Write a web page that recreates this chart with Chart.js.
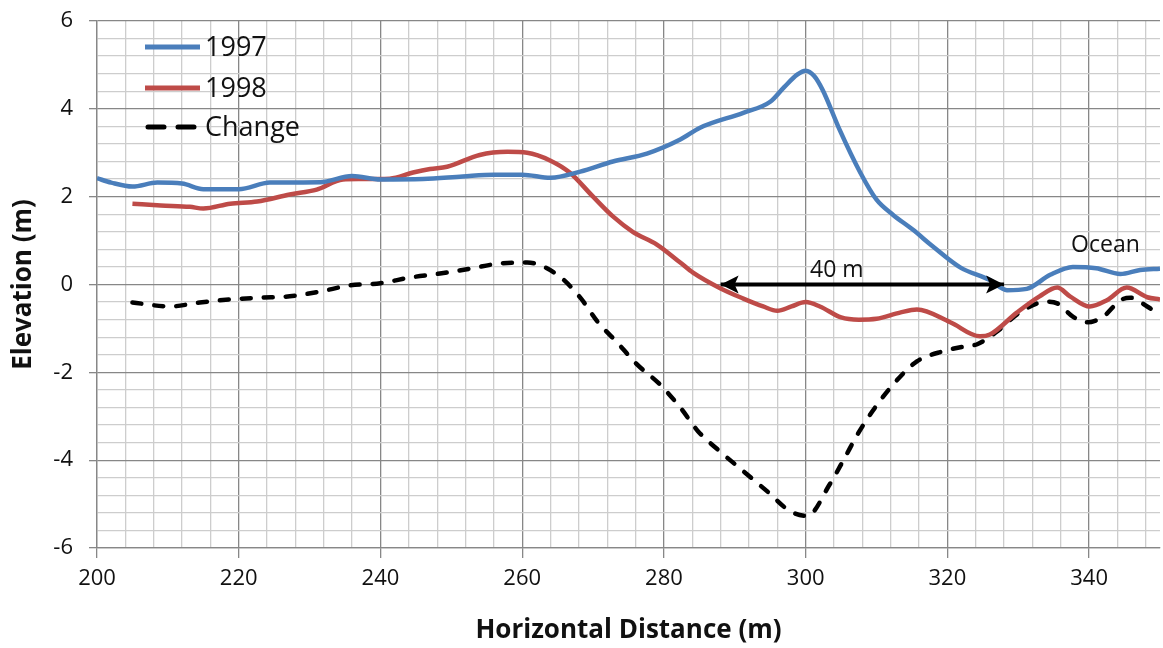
<!DOCTYPE html>
<html>
<head>
<meta charset="utf-8">
<script src="https://cdn.jsdelivr.net/npm/chart.js@4.4.1/dist/chart.umd.min.js"></script>
<style>
  html, body { margin: 0; padding: 0; background: #fff; }
  #wrap { width: 1163px; height: 648px; }
</style>
</head>
<body>
<div id="wrap"><canvas id="profileChart"></canvas></div>
<script>
// profile data (distance in m, elevation in m)
const dist1997 = [200, 202, 205, 208.5, 212, 215, 220, 224.4, 231.5, 236, 240, 246, 251.6, 256, 260, 264, 268.2, 272.8, 277.6, 282.3, 285.1, 291.2, 295, 297, 298.8, 300, 301.2, 302.4, 304.8, 307.7, 310, 312.3, 315.1, 318, 321.8, 326, 328.4, 331.2, 334.5, 337.7, 341, 344.4, 347.2, 350];
const elev1997 = [2.42, 2.32, 2.23, 2.32, 2.3, 2.17, 2.17, 2.32, 2.33, 2.47, 2.39, 2.4, 2.46, 2.5, 2.5, 2.43, 2.57, 2.8, 2.98, 3.3, 3.57, 3.91, 4.16, 4.5, 4.78, 4.87, 4.75, 4.43, 3.52, 2.55, 1.93, 1.59, 1.25, 0.86, 0.39, 0.1, -0.13, -0.1, 0.22, 0.4, 0.37, 0.24, 0.33, 0.36];

const dist1998 = [205, 209, 213.1, 215, 218.8, 222.6, 227.2, 231, 234.7, 237, 241.3, 244.6, 247, 249.4, 254, 257.9, 260.7, 264, 266.7, 270, 272.8, 275.6, 279, 282.3, 284.1, 288, 291.2, 294, 296, 298, 300, 302, 305, 307.5, 310, 313.3, 315.7, 320.4, 324.6, 326, 329.8, 333, 335.5, 337.3, 340.1, 342.5, 345.3, 348.2, 350];
const elev1998 = [1.84, 1.8, 1.77, 1.73, 1.84, 1.89, 2.05, 2.16, 2.39, 2.4, 2.41, 2.55, 2.63, 2.68, 2.95, 3.02, 3.0, 2.82, 2.55, 2.0, 1.55, 1.2, 0.91, 0.5, 0.27, -0.09, -0.32, -0.5, -0.6, -0.5, -0.4, -0.5, -0.75, -0.8, -0.78, -0.64, -0.57, -0.86, -1.18, -1.14, -0.64, -0.27, -0.07, -0.27, -0.5, -0.36, -0.07, -0.29, -0.34];

const distChange = [205, 210.3, 214.5, 218.8, 223, 227.2, 231.5, 235.7, 240, 244.2, 248.4, 252.6, 256.9, 260.7, 264.9, 268.2, 270.6, 273.4, 276.2, 279.4, 282.3, 284.8, 287.9, 291.2, 294.5, 297.8, 300.2, 303.4, 305.5, 307.4, 309.8, 312.6, 315.7, 319.4, 322.8, 324.2, 327, 330.2, 334, 335.5, 337.7, 339.7, 342, 344.4, 345.8, 348.2, 350];
const elevChange = [-0.41, -0.5, -0.41, -0.34, -0.3, -0.27, -0.16, -0.02, 0.03, 0.16, 0.25, 0.36, 0.48, 0.5, 0.23, -0.3, -0.84, -1.32, -1.82, -2.27, -2.8, -3.34, -3.8, -4.25, -4.7, -5.16, -5.27, -4.55, -3.95, -3.39, -2.8, -2.23, -1.75, -1.52, -1.4, -1.36, -1.07, -0.64, -0.39, -0.43, -0.73, -0.86, -0.73, -0.36, -0.3, -0.5, -0.7];

// the "40 m" arrow and text labels, in data units
const arrowX = [288, 328];
const arrowY = [0, 0];
const notes = [
    { text: '40 m', x: 304.4, y: 0.33 },
    { text: 'Ocean', x: 342.3, y: 0.9 }
];

// tick labels
const xTickLabels = [200, 220, 240, 260, 280, 300, 320, 340];
const yTickLabels = [-6, -4, -2, 0, 2, 4, 6];
const xMinorStep = 4;
const yMinorStep = 0.4;

const blue = '#4A7EBB';
const red = '#BE4B48';
const fontFamily = '"Open Sans", Lato, sans-serif';

function toPoints(xs, ys) {
    return xs.map((x, i) => ({ x: x, y: ys[i] }));
}

// legend drawn inside the plot, top-left
const innerLegend = {
    id: 'innerLegend',
    afterDraw(chart) {
        const ctx = chart.ctx;
        const rows = [47, 88, 127];
        ctx.save();
        ctx.font = '27px ' + fontFamily;
        ctx.textBaseline = 'middle';
        ctx.fillStyle = '#111';
        chart.data.datasets.slice(0, 3).forEach((ds, i) => {
            const y = rows[i];
            ctx.strokeStyle = ds.borderColor;
            ctx.lineWidth = 5;
            ctx.lineCap = ds.borderDash ? 'round' : 'butt';
            ctx.setLineDash(ds.borderDash ? [16, 14] : []);
            ctx.beginPath();
            ctx.moveTo(ds.borderDash ? 148 : 145, y);
            ctx.lineTo(ds.borderDash ? 196 : 200, y);
            ctx.stroke();
            ctx.setLineDash([]);
            ctx.fillText(ds.label, 205, y + 1);
        });
        ctx.restore();
    }
};

// arrow heads + text notes
const notesPlugin = {
    id: 'notesPlugin',
    afterDatasetsDraw(chart) {
        const ctx = chart.ctx;
        const xs = chart.scales.x, ys = chart.scales.y;
        const x1 = xs.getPixelForValue(arrowX[0]);
        const x2 = xs.getPixelForValue(arrowX[1]);
        const y1 = ys.getPixelForValue(arrowY[0]);
        ctx.save();
        ctx.fillStyle = '#000';
        ctx.beginPath();
        ctx.moveTo(x1, y1);
        ctx.lineTo(x1 + 18, y1 - 9);
        ctx.lineTo(x1 + 14, y1);
        ctx.lineTo(x1 + 18, y1 + 9);
        ctx.closePath();
        ctx.fill();
        ctx.beginPath();
        ctx.moveTo(x2, y1);
        ctx.lineTo(x2 - 18, y1 - 9);
        ctx.lineTo(x2 - 14, y1);
        ctx.lineTo(x2 - 18, y1 + 9);
        ctx.closePath();
        ctx.fill();

        ctx.font = '23px ' + fontFamily;
        ctx.textAlign = 'center';
        ctx.textBaseline = 'middle';
        ctx.fillStyle = '#111';
        notes.forEach(n => {
            ctx.fillText(n.text, xs.getPixelForValue(n.x), ys.getPixelForValue(n.y));
        });
        ctx.restore();
    }
};

function isMajor(v, list) {
    return list.some(t => Math.abs(t - v) < 1e-6);
}

const ctx = document.getElementById('profileChart').getContext('2d');
new Chart(ctx, {
    type: 'scatter',
    data: {
        datasets: [
            {
                label: '1997',
                data: toPoints(dist1997, elev1997),
                borderColor: blue,
                backgroundColor: blue,
                borderWidth: 4.5
            },
            {
                label: '1998',
                data: toPoints(dist1998, elev1998),
                borderColor: red,
                backgroundColor: red,
                borderWidth: 4.5
            },
            {
                label: 'Change',
                data: toPoints(distChange, elevChange),
                borderColor: '#000',
                backgroundColor: '#000',
                borderWidth: 4.5,
                borderDash: [9, 13],
                borderCapStyle: 'round'
            },
            {
                label: 'arrow',
                data: toPoints(arrowX, arrowY),
                borderColor: '#000',
                backgroundColor: '#000',
                borderWidth: 4
            }
        ]
    },
    options: {
        responsive: true,
        maintainAspectRatio: false,
        animation: false,
        showLine: true,
        elements: {
            point: { radius: 0, hoverRadius: 0 },
            line: { cubicInterpolationMode: 'monotone', fill: false }
        },
        layout: { padding: { top: 21, right: 3, left: 0, bottom: 0 } },
        plugins: {
            legend: { display: false },
            tooltip: { enabled: false }
        },
        scales: {
            x: {
                type: 'linear',
                min: 200,
                max: 350,
                afterBuildTicks(scale) {
                    const t = [];
                    for (let v = 200; v < 350; v += xMinorStep) t.push({ value: v });
                    scale.ticks = t;
                },
                afterFit(scale) { scale.height = 100; },
                ticks: {
                    autoSkip: false,
                    maxRotation: 0,
                    padding: 8,
                    color: '#111',
                    font: { family: fontFamily, size: 22 },
                    callback: v => isMajor(v, xTickLabels) ? String(v) : ''
                },
                grid: {
                    color: c => isMajor(c.tick.value, xTickLabels) ? '#878787' : '#cdcdcd',
                    tickColor: c => isMajor(c.tick.value, xTickLabels) ? '#878787' : 'rgba(0,0,0,0)',
                    tickLength: 10,
                    lineWidth: 1.3
                },
                border: { color: '#878787', width: 1.3 },
                title: {
                    display: true,
                    text: 'Horizontal Distance (m)',
                    color: '#111',
                    font: { family: fontFamily, size: 26, weight: 'bold' },
                    padding: { top: 0, bottom: 2 }
                }
            },
            y: {
                type: 'linear',
                min: -6,
                max: 6,
                afterBuildTicks(scale) {
                    const t = [];
                    for (let i = 0; i <= 30; i++) t.push({ value: Math.round((-6 + i * yMinorStep) * 10) / 10 });
                    scale.ticks = t;
                },
                afterFit(scale) {
                    scale.width = 97;
                    scale.paddingTop = 0;
                    scale.paddingBottom = 0;
                },
                ticks: {
                    autoSkip: false,
                    padding: 16,
                    color: '#111',
                    font: { family: fontFamily, size: 22 },
                    callback: v => isMajor(v, yTickLabels) ? String(Math.round(v)) : ''
                },
                grid: {
                    color: c => isMajor(c.tick.value, yTickLabels) ? '#878787' : '#cdcdcd',
                    tickColor: c => isMajor(c.tick.value, yTickLabels) ? '#878787' : 'rgba(0,0,0,0)',
                    tickLength: 8,
                    lineWidth: 1.3
                },
                border: { color: '#878787', width: 1.3 },
                title: {
                    display: true,
                    text: 'Elevation (m)',
                    color: '#111',
                    font: { family: fontFamily, size: 26, weight: 'bold' },
                    padding: { top: 8, bottom: 0 }
                }
            }
        }
    },
    plugins: [innerLegend, notesPlugin]
});
</script>
</body>
</html>
